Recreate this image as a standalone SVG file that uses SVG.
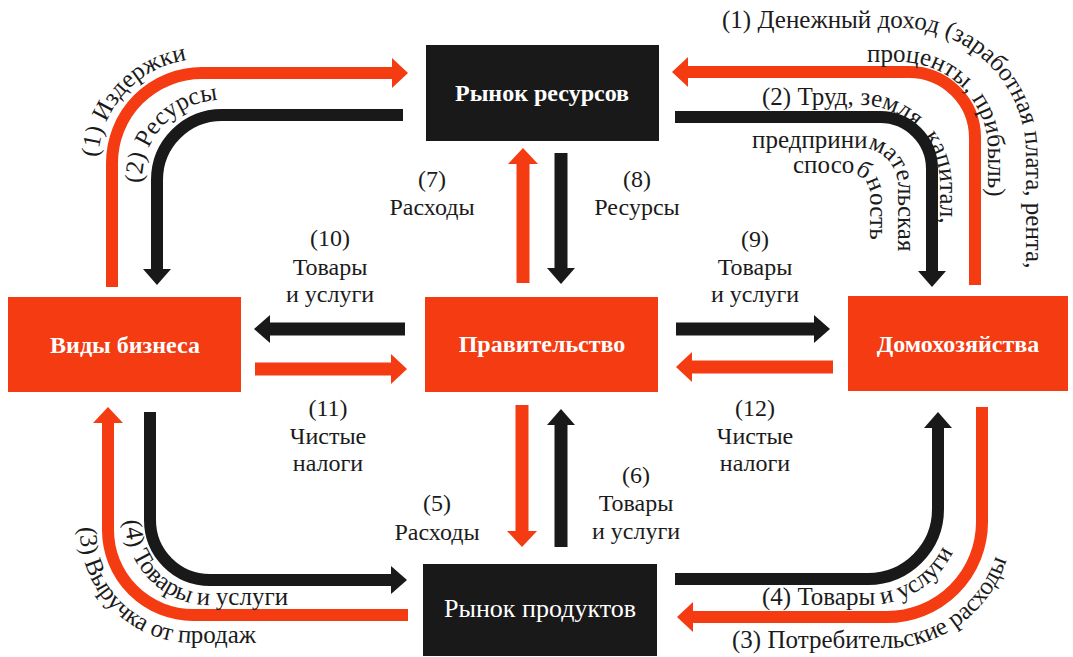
<svg xmlns="http://www.w3.org/2000/svg" xmlns:xlink="http://www.w3.org/1999/xlink" width="1073" height="657" viewBox="0 0 1073 657">
  <style>
    .lbl { font-family: "Liberation Serif", "DejaVu Serif", serif; font-size: 25px; fill: #1b1b1b; }
    .c { text-anchor: middle; font-size: 24px; }
    .node-text { font-family: "Liberation Serif", "DejaVu Serif", serif; font-size: 24px; font-weight: bold; fill: #ffffff; text-anchor: middle; }
    .red { fill: #f43b12; }
    .blk { fill: #191919; }
    .fr { fill: none; stroke: #f43b12; stroke-width: 12; }
    .fb { fill: none; stroke: #191919; stroke-width: 12; }
    .sr { stroke: #f43b12; stroke-width: 13; }
    .sb { stroke: #191919; stroke-width: 13; }
  </style>
  <defs>
    <marker id="headR" viewBox="0 0 16 30" refX="1" refY="15" markerWidth="16" markerHeight="30" markerUnits="userSpaceOnUse" orient="auto">
      <path d="M0,0 L16,15 L0,30 Z" fill="#f43b12"/>
    </marker>
    <marker id="headB" viewBox="0 0 16 28" refX="1" refY="14" markerWidth="16" markerHeight="28" markerUnits="userSpaceOnUse" orient="auto">
      <path d="M0,0 L16,14 L0,28 Z" fill="#191919"/>
    </marker>
    <!-- baselines for curved labels -->
    <path id="tpCostTL" d="M98,290 L98,163 A104,104 0 0 1 202,59 L420,59"/>
    <path id="tpResTL" d="M142,290 L142,180 A80,80 0 0 1 222,100 L420,100"/>
    <path id="tpIncome1" d="M700,28 L900,28 A126,126 0 0 1 1026,154 L1026,330"/>
    <path id="tpIncome2" d="M800,62 L900,62 A88,88 0 0 1 988,150 L988,330"/>
    <path id="tpLabor1" d="M700,105 L860,105 A80,80 0 0 1 940,185 L940,330"/>
    <path id="tpLabor2" d="M700,148 L860,148 A38,38 0 0 1 898,186 L898,330"/>
    <path id="tpLabor3" d="M700,173 L848,173 A22,22 0 0 1 870,195 L870,330"/>
    <path id="tpGoodsBL" d="M125,430 L125,520 A85,85 0 0 0 210,605 L420,605"/>
    <path id="tpRevBL" d="M80,430 L80,530 A113,113 0 0 0 193,643 L420,643"/>
    <path id="tpGoodsBR" d="M700,605 L868,605 A95,95 0 0 0 963,510 L963,400"/>
    <path id="tpSpendBR" d="M700,648 L887,648 A125,125 0 0 0 1012,523 L1012,400"/>
  </defs>

  <rect width="1073" height="657" fill="#ffffff"/>

  <!-- connectors -->
  <g id="connectors">
    <!-- outer loops -->
    <path class="fr" d="M112,287 L112,163 A90,90 0 0 1 202,73 L393,73" marker-end="url(#headR)"/>
    <path class="fb" d="M403,115 L222,115 A65,65 0 0 0 157,180 L157,270" marker-end="url(#headB)"/>
    <path class="fr" d="M975,285 L975,138 A66,66 0 0 0 909,72 L687,72" marker-end="url(#headR)"/>
    <path class="fb" d="M675,117 L880,117 A52,52 0 0 1 932,169 L932,272" marker-end="url(#headB)"/>
    <path class="fb" d="M150,412 L150,520 A60,60 0 0 0 210,580 L392,580" marker-end="url(#headB)"/>
    <path class="fr" d="M408,615 L193,615 A85,85 0 0 1 108,530 L108,422" marker-end="url(#headR)"/>
    <path class="fb" d="M675,579 L868,579 A70,70 0 0 0 938,509 L938,427" marker-end="url(#headB)"/>
    <path class="fr" d="M982,407 L982,522 A95,95 0 0 1 887,617 L692,617" marker-end="url(#headR)"/>
    <!-- government links -->
    <line class="sr" x1="523" y1="283" x2="523" y2="163" marker-end="url(#headR)"/>
    <line class="sb" x1="561" y1="153" x2="561" y2="269" marker-end="url(#headB)"/>
    <line class="sr" x1="522" y1="405" x2="522" y2="532" marker-end="url(#headR)"/>
    <line class="sb" x1="561" y1="547" x2="561" y2="424" marker-end="url(#headB)"/>
    <line class="sb" x1="405" y1="329" x2="269" y2="329" marker-end="url(#headB)"/>
    <line class="sr" x1="255" y1="369" x2="392" y2="369" marker-end="url(#headR)"/>
    <line class="sb" x1="676" y1="329" x2="815" y2="329" marker-end="url(#headB)"/>
    <line class="sr" x1="833" y1="367" x2="691" y2="367" marker-end="url(#headR)"/>
  </g>

  <!-- nodes -->
  <g id="node-resource-market">
    <rect class="blk" x="426" y="45" width="233" height="96"/>
    <text class="node-text" x="542" y="101">Рынок ресурсов</text>
  </g>
  <g id="node-business">
    <rect class="red" x="8" y="297" width="233" height="95"/>
    <text class="node-text" x="125" y="353">Виды бизнеса</text>
  </g>
  <g id="node-government">
    <rect class="red" x="425" y="297" width="233" height="95"/>
    <text class="node-text" x="542" y="352">Правительство</text>
  </g>
  <g id="node-households">
    <rect class="red" x="848" y="296" width="220" height="95"/>
    <text class="node-text" x="958" y="352">Домохозяйства</text>
  </g>
  <g id="node-product-market">
    <rect class="blk" x="423" y="564" width="234" height="92"/>
    <text class="node-text" x="540" y="617" style="font-weight:normal;font-size:26px">Рынок продуктов</text>
  </g>

  <!-- straight labels -->
  <g id="labels">
    <text class="lbl c" x="432" y="187">(7)</text>
    <text class="lbl c" x="432" y="215">Расходы</text>
    <text class="lbl c" x="637" y="187">(8)</text>
    <text class="lbl c" x="637" y="215">Ресурсы</text>
    <text class="lbl c" x="330" y="246">(10)</text>
    <text class="lbl c" x="330" y="275">Товары</text>
    <text class="lbl c" x="330" y="302">и услуги</text>
    <text class="lbl c" x="755" y="247">(9)</text>
    <text class="lbl c" x="755" y="275">Товары</text>
    <text class="lbl c" x="755" y="302">и услуги</text>
    <text class="lbl c" x="328" y="416">(11)</text>
    <text class="lbl c" x="328" y="444">Чистые</text>
    <text class="lbl c" x="328" y="471">налоги</text>
    <text class="lbl c" x="755" y="416">(12)</text>
    <text class="lbl c" x="755" y="444">Чистые</text>
    <text class="lbl c" x="755" y="471">налоги</text>
    <text class="lbl c" x="437" y="511">(5)</text>
    <text class="lbl c" x="437" y="540">Расходы</text>
    <text class="lbl c" x="636" y="483">(6)</text>
    <text class="lbl c" x="636" y="511">Товары</text>
    <text class="lbl c" x="636" y="539">и услуги</text>
  </g>

  <!-- curved labels -->
  <g id="curved-labels">
    <text class="lbl"><textPath xlink:href="#tpCostTL" startOffset="133">(1) Издержки</textPath></text>
    <text class="lbl"><textPath xlink:href="#tpResTL" startOffset="107">(2) Ресурсы</textPath></text>
    <text class="lbl"><textPath xlink:href="#tpIncome1" startOffset="22">(1) Денежный доход (заработная плата, рента,</textPath></text>
    <text class="lbl"><textPath xlink:href="#tpIncome2" startOffset="67">проценты, прибыль)</textPath></text>
    <text class="lbl"><textPath xlink:href="#tpLabor1" startOffset="62">(2) Труд, земля, капитал,</textPath></text>
    <text class="lbl"><textPath xlink:href="#tpLabor2" startOffset="52">предпринимательская</textPath></text>
    <text class="lbl"><textPath xlink:href="#tpLabor3" startOffset="93">способность</textPath></text>
    <text class="lbl"><textPath xlink:href="#tpGoodsBL" startOffset="90">(4) Товары и услуги</textPath></text>
    <text class="lbl"><textPath xlink:href="#tpRevBL" startOffset="97">(3) Выручка от продаж</textPath></text>
    <text class="lbl"><textPath xlink:href="#tpGoodsBR" startOffset="62">(4) Товары и услуги</textPath></text>
    <text class="lbl"><textPath xlink:href="#tpSpendBR" startOffset="32">(3) Потребительские расходы</textPath></text>
  </g>
</svg>
